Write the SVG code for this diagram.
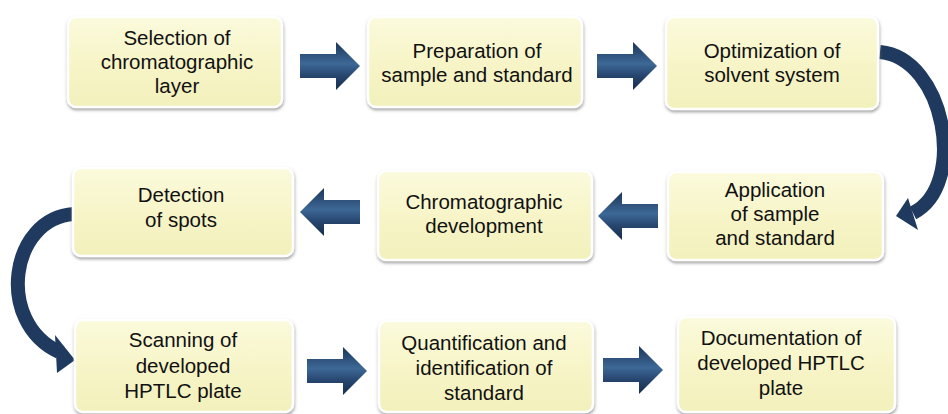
<svg xmlns="http://www.w3.org/2000/svg" xmlns:xlink="http://www.w3.org/1999/xlink" width="948" height="414" viewBox="0 0 948 414">
  <defs>
    <linearGradient id="boxFill" x1="0" y1="0" x2="0" y2="1">
      <stop offset="0" stop-color="#fbfadc"/>
      <stop offset="0.5" stop-color="#f7f5c8"/>
      <stop offset="1" stop-color="#f2f0bb"/>
    </linearGradient>
    <linearGradient id="arrowFill" x1="0" y1="0" x2="0" y2="1">
      <stop offset="0" stop-color="#1b3558"/>
      <stop offset="0.45" stop-color="#3d6896"/>
      <stop offset="0.7" stop-color="#27466f"/>
      <stop offset="1" stop-color="#172d4b"/>
    </linearGradient>
    <filter id="shadow" x="-10%" y="-10%" width="120%" height="130%">
      <feDropShadow dx="0.5" dy="2" stdDeviation="1.6" flood-color="#6f6f6f" flood-opacity="0.65"/>
    </filter>
    <!-- block arrow pointing right, tail at origin -->
    <path id="blockArrow" d="M0,-12 H36 V-24 L60,0 L36,24 V12 H0 Z"/>
  </defs>
  <style>
    .box { fill: url(#boxFill); stroke: #ffffff; stroke-width: 2.5; filter: url(#shadow); }
    .label { font-family: "Liberation Sans", Arial, sans-serif; font-size: 20.5px; fill: #111111; text-anchor: middle; }
    .arrow { fill: url(#arrowFill); }
    .curve { fill: none; stroke: #1f3a5e; stroke-width: 14; stroke-linecap: butt; }
    .head { fill: #1f3a5e; }
  </style>

  <rect width="948" height="414" fill="#ffffff"/>

  <!-- connectors -->
  <g id="connectors">
    <use xlink:href="#blockArrow" class="arrow" transform="translate(300,66)"/>
    <use xlink:href="#blockArrow" class="arrow" transform="translate(597,66)"/>
    <use xlink:href="#blockArrow" class="arrow" transform="translate(658,216) scale(-1,1)"/>
    <use xlink:href="#blockArrow" class="arrow" transform="translate(360,212) scale(-1,1)"/>
    <use xlink:href="#blockArrow" class="arrow" transform="translate(307,371)"/>
    <use xlink:href="#blockArrow" class="arrow" transform="translate(603,370)"/>

    <!-- right-hand bend: row 1 to row 2 -->
    <path class="curve" d="M 880 52 C 945 58, 968 185, 913 213"/>
    <polygon class="head" points="896,216 908,198 918,230"/>

    <!-- left-hand bend: row 2 to row 3 -->
    <path class="curve" d="M 74 214 C 10 218, -5 322, 59 352"/>
    <polygon class="head" points="75,360 55,335 57,373"/>
  </g>

  <g id="n1">
    <rect class="box" x="68" y="17" width="214" height="90" rx="8"/>
    <text class="label" x="177" y="45">Selection of</text>
    <text class="label" x="177" y="69">chromatographic</text>
    <text class="label" x="177" y="93">layer</text>
  </g>
  <g id="n2">
    <rect class="box" x="368" y="17" width="214" height="90" rx="8"/>
    <text class="label" x="477" y="58">Preparation of</text>
    <text class="label" x="477" y="82">sample and standard</text>
  </g>
  <g id="n3">
    <rect class="box" x="666" y="17" width="212" height="92" rx="8"/>
    <text class="label" x="772" y="58">Optimization of</text>
    <text class="label" x="772" y="82">solvent system</text>
  </g>
  <g id="n4">
    <rect class="box" x="668" y="172" width="215" height="88" rx="8"/>
    <text class="label" x="775" y="197">Application</text>
    <text class="label" x="775" y="221">of sample</text>
    <text class="label" x="775" y="245">and standard</text>
  </g>
  <g id="n5">
    <rect class="box" x="378" y="171" width="214" height="89" rx="8"/>
    <text class="label" x="484" y="209">Chromatographic</text>
    <text class="label" x="484" y="233">development</text>
  </g>
  <g id="n6">
    <rect class="box" x="73" y="168" width="220" height="88" rx="8"/>
    <text class="label" x="181" y="202">Detection</text>
    <text class="label" x="181" y="227">of spots</text>
  </g>
  <g id="n7">
    <rect class="box" x="75" y="320" width="218" height="92" rx="8"/>
    <text class="label" x="183" y="347">Scanning of</text>
    <text class="label" x="183" y="373">developed</text>
    <text class="label" x="183" y="398">HPTLC plate</text>
  </g>
  <g id="n8">
    <rect class="box" x="379" y="321" width="214" height="91" rx="8"/>
    <text class="label" x="484" y="350">Quantification and</text>
    <text class="label" x="484" y="375">identification of</text>
    <text class="label" x="484" y="400">standard</text>
  </g>
  <g id="n9">
    <rect class="box" x="678" y="317" width="217" height="95" rx="8"/>
    <text class="label" x="781" y="345">Documentation of</text>
    <text class="label" x="781" y="370">developed HPTLC</text>
    <text class="label" x="781" y="395">plate</text>
  </g>
</svg>
